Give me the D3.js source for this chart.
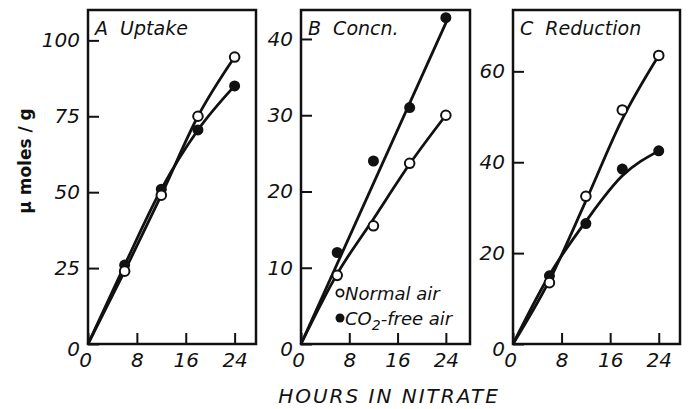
<!DOCTYPE html>
<html>
<head>
<meta charset="utf-8">
<script src="https://cdn.jsdelivr.net/npm/d3@7"></script>
<style>
  body { margin: 0; background: #fff; }
  svg { display: block; }
  text { font-family: "DejaVu Sans", sans-serif; fill: #111; }
</style>
</head>
<body>
<svg width="689" height="409"></svg>
<script>
// hours in nitrate at which samples were taken
const hours = [6, 12, 18, 24];

// A: uptake (µmoles/g)
const uptakeNormal = [24, 49, 75, 94.5];
const uptakeCO2free = [26, 51, 70.5, 85];

// B: concentration
const concnNormal = [9, 15.5, 23.7, 30];
const concnCO2free = [12, 24, 31, 42.8];
const concnNormalFit = [[0, 0], [6, 9.2], [12, 16.4], [18, 23.6], [24, 30]];
const concnCO2freeFit = [[0, 0], [24.4, 42.8]];

// C: reduction
const reductionNormal = [13.5, 32.5, 51.5, 63.5];
const reductionCO2free = [15, 26.5, 38.5, 42.5];
const reductionNormalFit = [[0, 0], [6, 14], [12, 31.5], [18, 49.5], [24, 63.5]];
const reductionCO2freeFit = [[0, 0], [6, 15.2], [12, 27], [18, 37], [24, 42.5]];

const xTicks = [0, 8, 16, 24];
const withOrigin = v => [[0, 0]].concat(hours.map((h, i) => [h, v[i]]));

const panels = [
  {label: "A  Uptake", left: 88, right: 256, xmax: 27.5, ymax: 110, yticks: [0, 25, 50, 75, 100],
   normal: uptakeNormal, co2free: uptakeCO2free,
   normalFit: withOrigin(uptakeNormal), co2freeFit: withOrigin(uptakeCO2free)},
  {label: "B  Concn.", left: 301, right: 470, xmax: 28, ymax: 43.8, yticks: [0, 10, 20, 30, 40],
   normal: concnNormal, co2free: concnCO2free,
   normalFit: concnNormalFit, co2freeFit: concnCO2freeFit, legend: true},
  {label: "C  Reduction", left: 513, right: 680, xmax: 27.5, ymax: 73.5, yticks: [0, 20, 40, 60],
   normal: reductionNormal, co2free: reductionCO2free,
   normalFit: reductionNormalFit, co2freeFit: reductionCO2freeFit}
];

const svg = d3.select("svg");
const plotTop = 10, plotBottom = 344;

panels.forEach(p => {
  const x = d3.scaleLinear().domain([0, p.xmax]).range([0, p.right - p.left]);
  const y = d3.scaleLinear().domain([0, p.ymax]).range([plotBottom - plotTop, 0]);
  const g = svg.append("g").attr("transform", `translate(${p.left},${plotTop})`);

  const yAxis = g.append("g")
    .call(d3.axisLeft(y).tickValues(p.yticks).tickSizeInner(-11).tickSizeOuter(0).tickPadding(8));
  const xAxis = g.append("g")
    .attr("transform", `translate(0,${plotBottom - plotTop})`)
    .call(d3.axisBottom(x).tickValues(xTicks).tickSizeInner(-11).tickSizeOuter(0).tickPadding(9));
  [yAxis, xAxis].forEach(a => {
    a.select(".domain").remove();
    a.selectAll("line").attr("stroke", "#111").attr("stroke-width", 2);
    a.selectAll("text")
      .attr("font-size", 20)
      .attr("font-style", "italic")
      .attr("fill", "#111")
      .attr("font-family", "DejaVu Sans, sans-serif");
  });
  xAxis.selectAll(".tick").filter(d => d === 0).select("text").attr("dx", -3);
  yAxis.selectAll(".tick").filter(d => d === 0).select("text").attr("dy", "0.55em");

  g.append("rect")
    .attr("width", p.right - p.left)
    .attr("height", plotBottom - plotTop)
    .attr("fill", "none")
    .attr("stroke", "#111")
    .attr("stroke-width", 2.5);

  g.append("text")
    .attr("x", 7).attr("y", 25)
    .attr("font-size", 19)
    .attr("font-style", "italic")
    .attr("xml:space", "preserve")
    .text(p.label);

  const line = d3.line().x(d => x(d[0])).y(d => y(d[1])).curve(d3.curveMonotoneX);
  [p.co2freeFit, p.normalFit].forEach(f => {
    g.append("path")
      .attr("d", line(f))
      .attr("fill", "none")
      .attr("stroke", "#111")
      .attr("stroke-width", 2.8);
  });

  g.selectAll("circle.co2")
    .data(p.co2free)
    .join("circle")
    .attr("class", "co2")
    .attr("cx", (d, i) => x(hours[i]))
    .attr("cy", d => y(d))
    .attr("r", 5.5)
    .attr("fill", "#111");

  g.selectAll("circle.norm")
    .data(p.normal)
    .join("circle")
    .attr("class", "norm")
    .attr("cx", (d, i) => x(hours[i]))
    .attr("cy", d => y(d))
    .attr("r", 4.8)
    .attr("fill", "#fff")
    .attr("stroke", "#111")
    .attr("stroke-width", 2);

  if (p.legend) {
    const lg = g.append("g").attr("transform", "translate(39,283)");
    lg.append("circle").attr("r", 3.6).attr("fill", "#fff").attr("stroke", "#111").attr("stroke-width", 1.8);
    lg.append("text").attr("x", 5).attr("y", 7).attr("font-size", 18).attr("font-style", "italic")
      .text("Normal air");
    lg.append("circle").attr("cy", 25).attr("r", 4.5).attr("fill", "#111");
    const t = lg.append("text").attr("x", 5).attr("y", 32).attr("font-size", 18).attr("font-style", "italic");
    t.append("tspan").text("CO");
    t.append("tspan").attr("font-size", 14).attr("dy", 5).text("2");
    t.append("tspan").attr("dy", -5).text("-free air");
  }
});

svg.append("text")
  .attr("x", 389).attr("y", 403)
  .attr("text-anchor", "middle")
  .attr("font-size", 20)
  .attr("font-style", "italic")
  .attr("letter-spacing", 2)
  .text("HOURS IN NITRATE");

svg.append("text")
  .attr("transform", "translate(31,161) rotate(-90)")
  .attr("text-anchor", "middle")
  .attr("font-size", 17)
  .attr("font-weight", "bold")
  .attr("xml:space", "preserve")
  .text("\u03bc moles / g");
</script>
</body>
</html>
